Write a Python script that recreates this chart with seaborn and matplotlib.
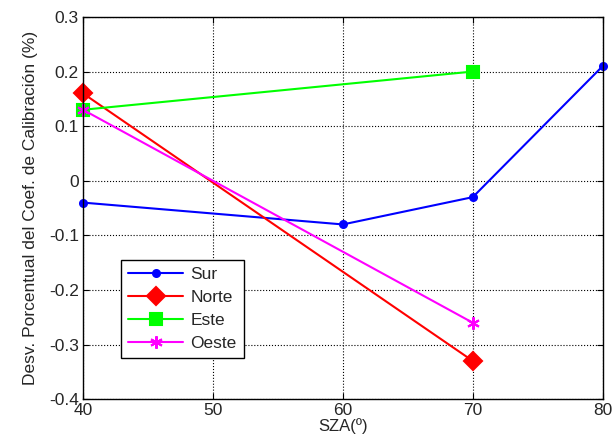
import pandas as pd
import matplotlib
matplotlib.use('Agg')
import matplotlib.pyplot as plt
import seaborn as sns

# Values
sza_sur = [40, 60, 70, 80]
dev_sur = [-0.04, -0.08, -0.03, 0.21]
sza_norte = [40, 70]
dev_norte = [0.16, -0.33]
sza_este = [40, 70]
dev_este = [0.13, 0.20]
sza_oeste = [40, 70]
dev_oeste = [0.13, -0.26]

series = ['Sur', 'Norte', 'Este', 'Oeste']
colors = {'Sur': '#0000ff', 'Norte': '#ff0000', 'Este': '#00ff00', 'Oeste': '#ff00ff'}
markers = {'Sur': 'o', 'Norte': 'D', 'Este': 's', 'Oeste': (6, 2, 0)}
msizes = {'Sur': 5, 'Norte': 9.5, 'Este': 8, 'Oeste': 9}

frames = []
for name, xs, ys in [('Sur', sza_sur, dev_sur), ('Norte', sza_norte, dev_norte),
                     ('Este', sza_este, dev_este), ('Oeste', sza_oeste, dev_oeste)]:
    frames.append(pd.DataFrame({'SZA': xs, 'dev': ys, 'serie': name}))
df = pd.concat(frames, ignore_index=True)

sns.set_style('white')
plt.rcParams['font.family'] = ['Liberation Sans', 'DejaVu Sans']
plt.rcParams['font.size'] = 12

fig = plt.figure(figsize=(6.15, 4.46), dpi=100)
ax = fig.add_axes([0.135, 0.105, 0.845, 0.857])

for name in series:
    d = df[df['serie'] == name]
    sns.lineplot(data=d, x='SZA', y='dev', ax=ax, color=colors[name], marker=markers[name],
                 markersize=msizes[name], markeredgecolor=colors[name], markeredgewidth=1.5,
                 linewidth=1.5, label=name, sort=False, zorder=3, clip_on=False)

ax.set_xlim(40, 80)
ax.set_ylim(-0.4, 0.3)
ax.set_xticks([40, 50, 60, 70, 80])
ax.set_yticks([-0.4, -0.3, -0.2, -0.1, 0, 0.1, 0.2, 0.3])
ax.set_yticklabels(['-0.4', '-0.3', '-0.2', '-0.1', '0', '0.1', '0.2', '0.3'])
ax.grid(True, color='black', linestyle=':', linewidth=0.8)
ax.tick_params(direction='in', length=4, color='black', labelsize=12.5, top=True, right=True,
               bottom=True, left=True, pad=3)
for s in ax.spines.values():
    s.set_color('black')
    s.set_linewidth(1.0)
    s.set_zorder(4)

ax.set_xlabel('SZA(º)', fontsize=12, labelpad=0)
ax.set_ylabel('Desv. Porcentual del Coef. de Calibración (%)', fontsize=12.5, labelpad=8)

leg = ax.legend(loc='lower left', bbox_to_anchor=(0.073, 0.107), fancybox=False, framealpha=1,
                edgecolor='black', fontsize=12.5, handlelength=3.2, borderpad=0.4,
                labelspacing=0.45, handletextpad=0.4, borderaxespad=0)
leg.get_frame().set_linewidth(1.0)
leg.set_zorder(5)

fig.savefig('out.png', dpi=100)
